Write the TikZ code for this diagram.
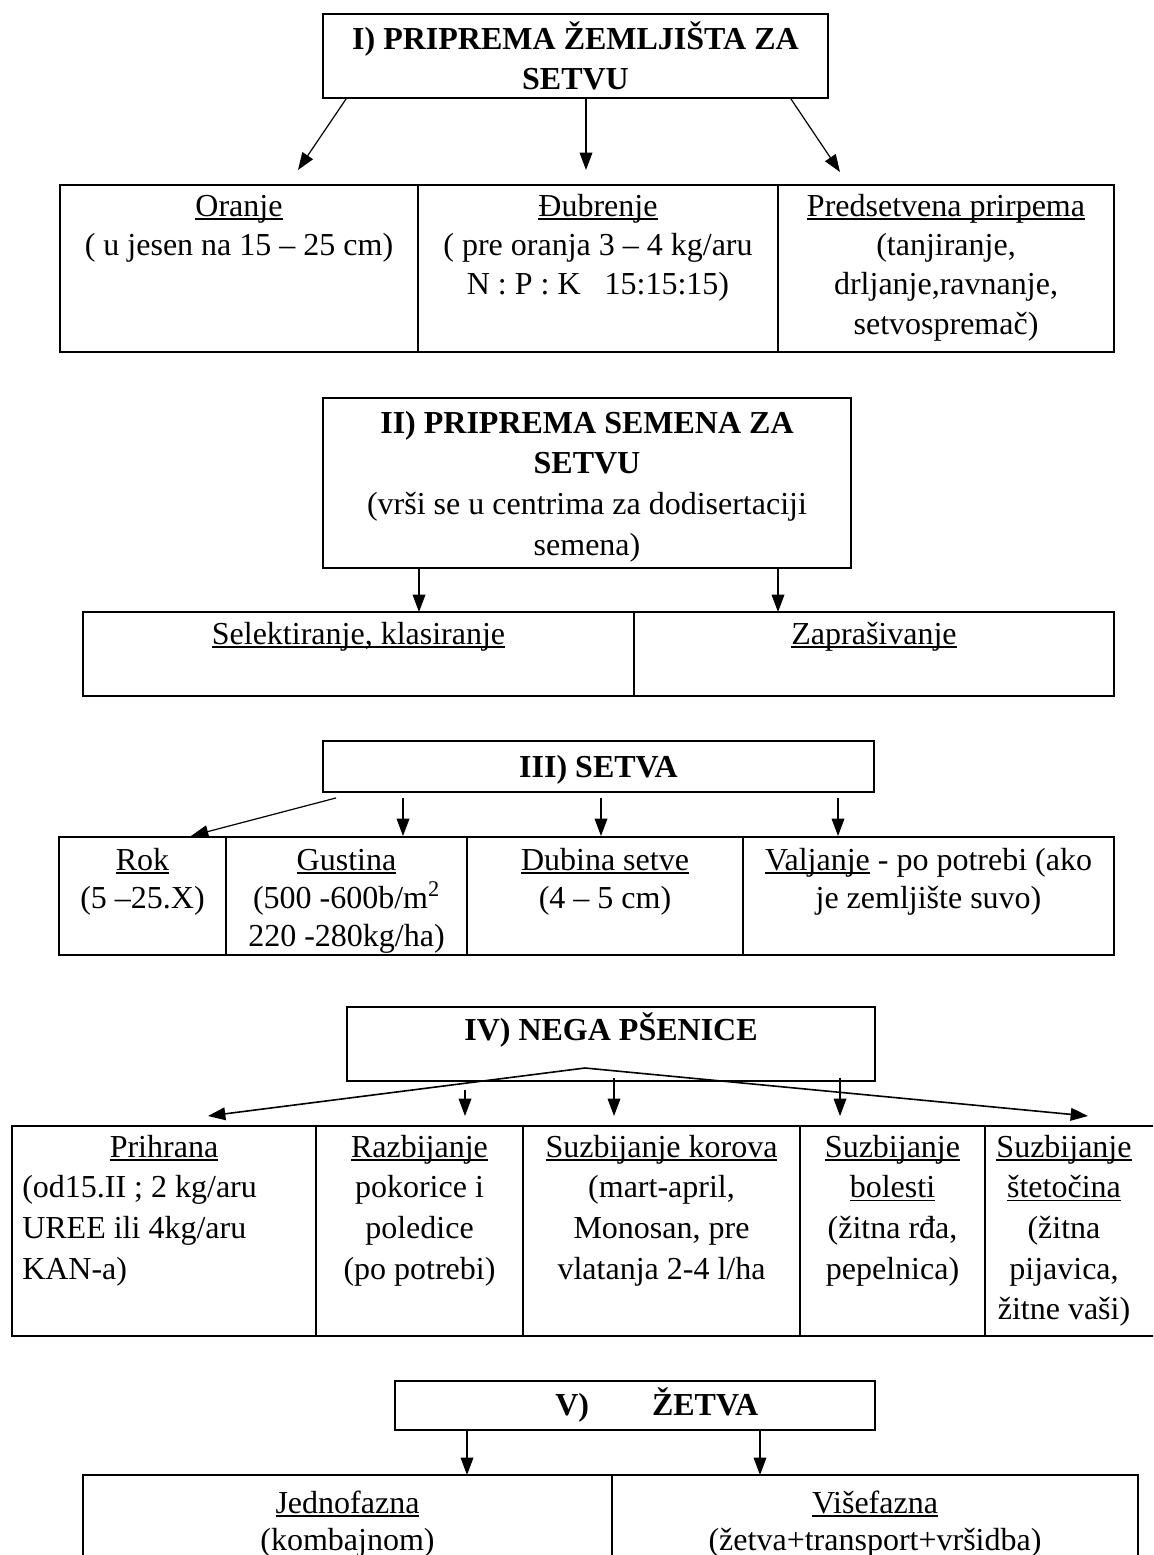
\documentclass[tikz,border=0pt]{standalone}
\usepackage{fontspec}
\setmainfont{Liberation Serif}
\usetikzlibrary{arrows.meta,calc,fit}

% underline at a fixed depth below the baseline
\newcommand{\uln}[1]{\setbox0=\hbox{#1}\rlap{\rule[-2.6pt]{\wd0}{1pt}}\box0\relax}
% fixed height of a first line
\newcommand{\up}{\rule{0pt}{22.5pt}}

\begin{document}
\begin{tikzpicture}[
  x=0.75pt, y=-0.75pt,
  box/.style={draw, line width=1.4pt, inner sep=0pt},
  txt/.style={font=\fontsize{24}{30.5}\selectfont, align=center, inner sep=0pt, anchor=north},
  ttl/.style={txt, font=\bfseries\fontsize{24}{30.5}\selectfont},
  tight/.style={font=\fontsize{24}{28.5}\selectfont},
  arr/.style={-{Triangle[length=13pt,width=9.5pt]}, line width=0.9pt},
  link/.style={-{Triangle[length=13pt,width=9.5pt]}, line width=1.2pt}
]
\useasboundingbox (0,0) rectangle (1153,1555);
\clip (0,0) rectangle (1153,1555);

% I) soil preparation
\node[box, fit={(323,14) (828,98)}] (tI) {};
\node[ttl] (hI) at (575.5,19) {\up I) PRIPREMA ŽEMLJIŠTA ZA\\SETVU};
\node[box, fit={(60,185) (418,352)}] (c11) {};
\node[box, fit={(418,185) (778,352)}] (c12) {};
\node[box, fit={(778,185) (1114,352)}] (c13) {};
\node[txt, font=\fontsize{24}{29.5}\selectfont] (x11) at (239,186) {\up\uln{Oranje}\\( u jesen na 15 – 25 cm)};
\node[txt, font=\fontsize{24}{29.5}\selectfont] (x12) at (598,186) {\up\uln{Đubrenje}\\( pre oranja 3 – 4 kg/aru\\N : P : K\ \ \ 15:15:15)};
\node[txt, font=\fontsize{24}{29.5}\selectfont] (x13) at (946,186) {\up\uln{Predsetvena prirpema}\\(tanjiranje,\\drljanje,ravnanje,\\setvospremač)};
\coordinate (e11) at (298,170);
\coordinate (e12) at (586,170);
\coordinate (e13) at (840,172);
\draw[arr] ($(tI.south west)+(24,0)$) -- (e11);
\draw[arr] (tI.south -| e12) -- (e12);
\draw[arr] ($(tI.south east)+(-38,0)$) -- (e13);

% II) seed preparation
\node[box, fit={(323,398) (851,568)}] (tII) {};
\node[txt] (hII) at (587,403) {\up\textbf{II) PRIPREMA SEMENA ZA}\\\textbf{SETVU}\\(vrši se u centrima za dodisertaciji\\semena)};
\node[box, fit={(83,612) (634,696)}] (c21) {};
\node[box, fit={(634,612) (1114,696)}] (c22) {};
\node[txt] (x21) at (358.5,614) {\up\uln{Selektiranje, klasiranje}};
\node[txt] (x22) at (874,614) {\up\uln{Zaprašivanje}};
\coordinate (e21) at (419,612);
\coordinate (e22) at (778,612);
\draw[arr] (tII.south -| e21) -- (e21);
\draw[arr] (tII.south -| e22) -- (e22);

% III) sowing
\node[box, fit={(323,741) (874,792)}] (tIII) {};
\node[ttl] (hIII) at (598.5,747) {\up III) SETVA};
\node[box, fit={(59,837) (226,955)}] (c31) {};
\node[box, fit={(226,837) (467,955)}] (c32) {};
\node[box, fit={(467,837) (743,955)}] (c33) {};
\node[box, fit={(743,837) (1114,955)}] (c34) {};
\node[txt, tight] (x31) at (142.5,840) {\up\uln{Rok}\\(5 –25.X)};
\node[txt, tight] (x32) at (346.5,840) {\up\uln{Gustina}\\(500 -600b/m\textsuperscript{2}\\220 -280kg/ha)};
\node[txt, tight] (x33) at (605,840) {\up\uln{Dubina setve}\\(4 – 5 cm)};
\node[txt, tight] (x34) at (928.5,840) {\up\uln{Valjanje} - po potrebi (ako\\je zemljište suvo)};
\coordinate (e31) at (191,836);
\coordinate (e32) at (403,836);
\coordinate (e33) at (601,836);
\coordinate (e34) at (838,836);
\draw[arr] ($(tIII.south west)+(14,5)$) -- (e31);
\foreach \e in {e32,e33,e34}
  \draw[arr] ($(tIII.south -| \e)+(0,5)$) -- (\e);

% IV) crop care
\node[box, fit={(347,1007) (875,1081)}] (tIV) {};
\node[ttl] (hIV) at (611,1010) {\up IV) NEGA PŠENICE};
\node[box, fit={(12,1126) (316,1336)}] (c41) {};
\node[box, fit={(316,1126) (523,1336)}] (c42) {};
\node[box, fit={(523,1126) (800,1336)}] (c43) {};
\node[box, fit={(800,1126) (985,1336)}] (c44) {};
\node[box, fit={(985,1126) (1160,1336)}] (c45) {};
\node[txt] (x41) at (164,1127) {\up\uln{Prihrana}};
\node[txt, align=left, anchor=north west] (x41b) at (22,1167.7) {\up(od15.II ; 2 kg/aru\\UREE ili 4kg/aru\\KAN-a)};
\node[txt] (x42) at (419.5,1127) {\up\uln{Razbijanje}\\pokorice i\\poledice\\(po potrebi)};
\node[txt] (x43) at (661.5,1127) {\up\uln{Suzbijanje korova}\\(mart-april,\\Monosan, pre\\vlatanja 2-4 l/ha};
\node[txt] (x44) at (892.5,1127) {\up\uln{Suzbijanje}\\\uln{bolesti}\\(žitna rđa,\\pepelnica)};
\node[txt] (x45) at (1064,1127) {\up\uln{Suzbijanje}\\\uln{štetočina}\\(žitna\\pijavica,\\žitne vaši)};
\coordinate (apex) at (585,1068);
\coordinate (e41) at (208,1116);
\coordinate (e42) at (465,1116);
\coordinate (e43) at (614,1116);
\coordinate (e44) at (840,1116);
\coordinate (e45) at (1088,1116);
\draw[link] (apex) -- (e41);
\draw[link] (apex) -- (e45);
\draw[arr] ($(e42)+(0,-26)$) -- (e42);
\draw[arr] ($(tIV.south -| e43)+(0,-4)$) -- (e43);
\draw[arr] ($(tIV.south -| e44)+(0,-4)$) -- (e44);

% V) harvest
\node[box, fit={(395,1381) (875,1430)}] (tV) {};
\node[ttl, anchor=north west] (hV) at (555,1385) {\up V)\hspace{47.25pt}ŽETVA};
\node[box, fit={(83,1475) (612,1570)}] (c51) {};
\node[box, fit={(612,1475) (1138,1570)}] (c52) {};
\node[txt, font=\fontsize{24}{28}\selectfont] (x51) at (347.5,1483) {\up\uln{Jednofazna}\\(kombajnom)};
\node[txt, font=\fontsize{24}{28}\selectfont] (x52) at (875,1483) {\up\uln{Višefazna}\\(žetva+transport+vršidba)};
\coordinate (e51) at (467,1475);
\coordinate (e52) at (760,1475);
\draw[arr] (tV.south -| e51) -- (e51);
\draw[arr] (tV.south -| e52) -- (e52);
\end{tikzpicture}
\end{document}
